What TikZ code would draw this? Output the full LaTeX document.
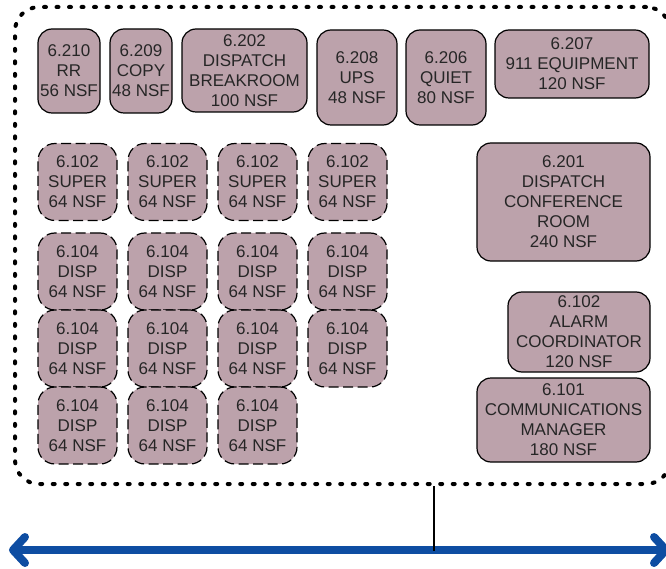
\documentclass[tikz,border=0pt]{standalone}
\usepackage{fontspec}
\setmainfont{Liberation Sans}
\usetikzlibrary{arrows.meta,positioning}
\definecolor{roomfill}{RGB}{188,162,171}
\definecolor{hallblue}{RGB}{14,77,162}

\begin{document}
\begin{tikzpicture}[x=1pt, y=-1pt, node distance=90pt,
  room/.style = {draw, rounded corners=14pt, fill=roomfill, line width=1.2pt, align=center, inner sep=0pt, text=black!85, font=\fontsize{17}{20}\selectfont},
  open/.style = {room, rounded corners=17pt, dash pattern=on 10pt off 4.5pt, minimum width=79pt, minimum height=77pt},
  suite/.style = {draw, rounded corners=24pt, line width=4pt, dash pattern=on 2pt off 10.5pt, line cap=round, inner sep=0pt},
  hall/.style = {draw=hallblue, line width=8pt, {Straight Barb[length=12pt,width=26pt,round]}-{Straight Barb[length=12pt,width=26pt,round]}}]
			\useasboundingbox (0,0) rectangle (666,569);
			\node[suite, minimum width=655pt, minimum height=477pt] (suite) at (342.5,245.5) {};
			% enclosed rooms
			\node[room, minimum width=62pt, minimum height=84pt] (r210) at (69,71) {6.210\\RR\\56 NSF};
			\node[room, minimum width=62pt, minimum height=84pt] (r209) at (141,71) {6.209\\COPY\\48 NSF};
			\node[room, minimum width=125pt, minimum height=83pt] (r202) at (244.5,70.5) {6.202\\DISPATCH\\BREAKROOM\\100 NSF};
			\node[room, minimum width=80pt, minimum height=95pt] (r208) at (357,77.5) {6.208\\UPS\\48 NSF};
			\node[room, minimum width=80pt, minimum height=95pt] (r206) at (446,77.5) {6.206\\QUIET\\80 NSF};
			\node[room, minimum width=154pt, minimum height=68pt] (r207) at (572,64) {6.207\\911 EQUIPMENT\\120 NSF};
			\node[room, minimum width=173pt, minimum height=118pt] (r201) at (563.5,202) {6.201\\DISPATCH\\CONFERENCE\\ROOM\\240 NSF};
			\node[room, minimum width=142pt, minimum height=80pt] (r102) at (579,332) {6.102\\ALARM\\COORDINATOR\\120 NSF};
			\node[room, minimum width=173pt, minimum height=84pt] (r101) at (563.5,420) {6.101\\COMMUNICATIONS\\MANAGER\\180 NSF};
			% open workstations
			\node[open] (s1) at (77.5,182) {6.102\\SUPER\\64 NSF};
			\node[open] (s2) [right of=s1] {6.102\\SUPER\\64 NSF};
			\node[open] (s3) [right of=s2] {6.102\\SUPER\\64 NSF};
			\node[open] (s4) [right of=s3] {6.102\\SUPER\\64 NSF};
			\node[open] (d1) [below of=s1, node distance=89.5pt] {6.104\\DISP\\64 NSF};
			\node[open] (d2) [right of=d1] {6.104\\DISP\\64 NSF};
			\node[open] (d3) [right of=d2] {6.104\\DISP\\64 NSF};
			\node[open] (d4) [right of=d3] {6.104\\DISP\\64 NSF};
			\node[open] (d5) [below of=d1, node distance=77pt] {6.104\\DISP\\64 NSF};
			\node[open] (d6) [right of=d5] {6.104\\DISP\\64 NSF};
			\node[open] (d7) [right of=d6] {6.104\\DISP\\64 NSF};
			\node[open] (d8) [right of=d7] {6.104\\DISP\\64 NSF};
			\node[open] (d9) [below of=d5, node distance=77pt] {6.104\\DISP\\64 NSF};
			\node[open] (d10) [right of=d9] {6.104\\DISP\\64 NSF};
			\node[open] (d11) [right of=d10] {6.104\\DISP\\64 NSF};
			% corridor
			\coordinate (west) at (9,550);
			\coordinate (east) at (670,550);
			\coordinate (tap) at (434,551);
			\draw[hall] (west) -- (east);
			\draw[line width=1.8pt] (suite.south -| tap) -- (tap);
		\end{tikzpicture}
\end{document}
